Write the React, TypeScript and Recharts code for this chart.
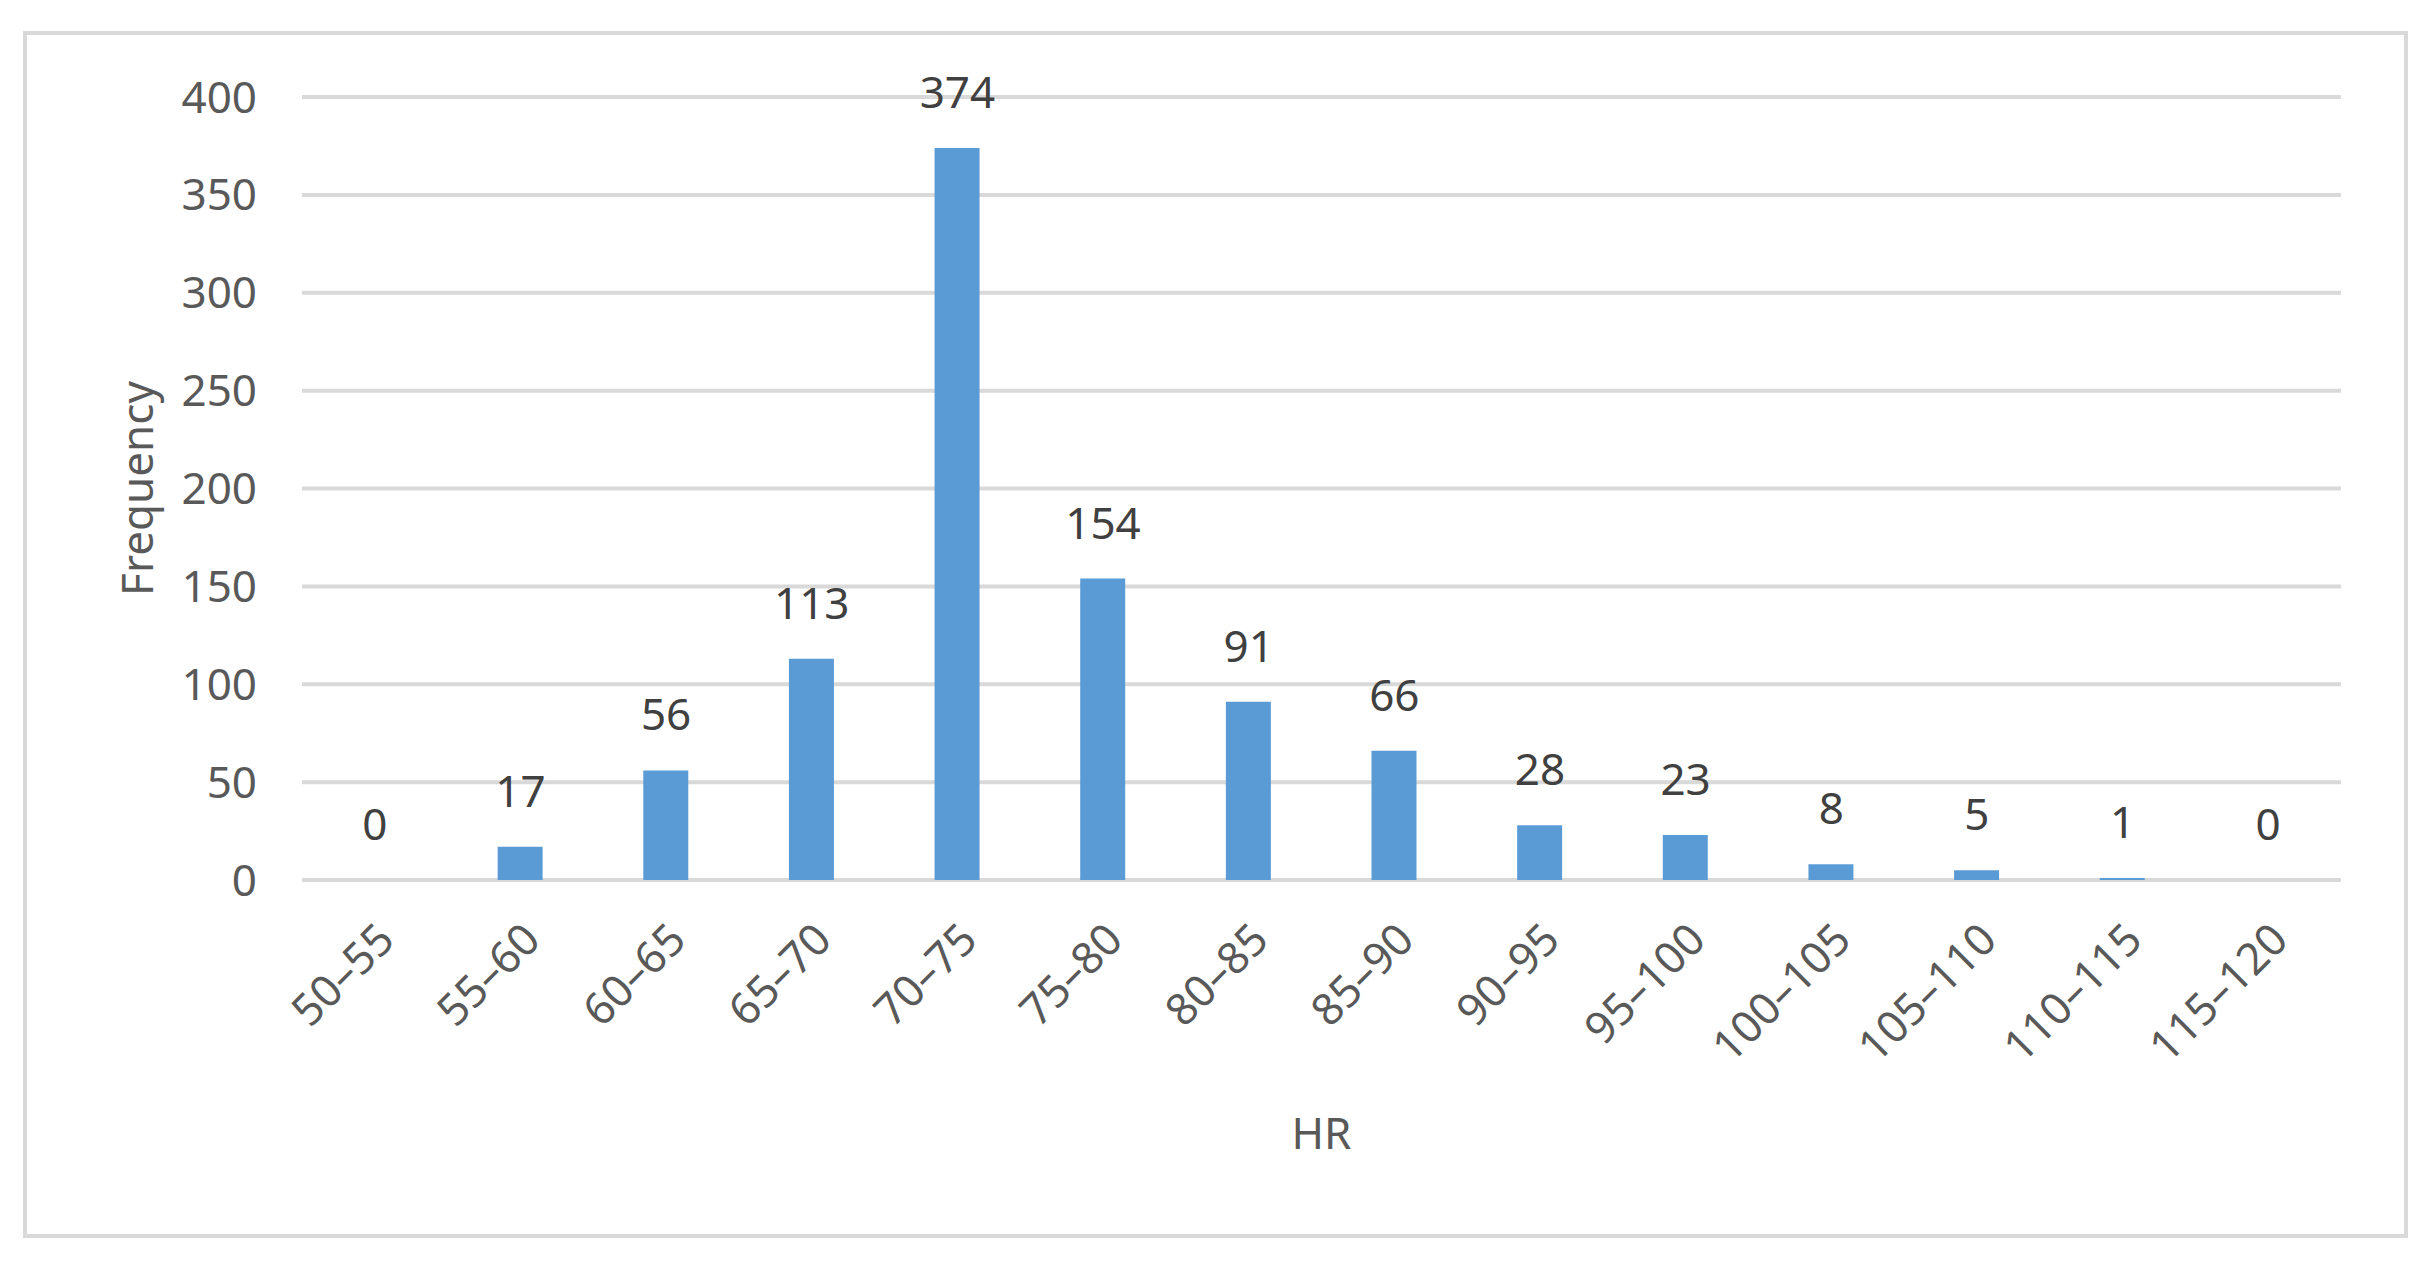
import React from 'react';
import { ComposedChart, Bar, Line, XAxis, YAxis, CartesianGrid, LabelList } from 'recharts';

const categories = ['50–55', '55–60', '60–65', '65–70', '70–75', '75–80', '80–85', '85–90', '90–95', '95–100', '100–105', '105–110', '110–115', '115–120'];
const frequencies = [0, 17, 56, 113, 374, 154, 91, 66, 28, 23, 8, 5, 1, 0];
const yTicks = [0, 50, 100, 150, 200, 250, 300, 350, 400];

const data = categories.map((c, i) => ({ range: c, value: frequencies[i] }));

const FONT = '"Noto Sans", "Open Sans", sans-serif';
const FS = 44;

export default function App() {
  return (
    <div style={{ position: 'absolute', left: 0, top: 0, width: 2431, height: 1267, background: '#ffffff', fontFamily: FONT }}>
      <div style={{ position: 'absolute', left: 23, top: 31, width: 2377, height: 1199, border: '4px solid #D9D9D9' }} />
      <div style={{ position: 'absolute', left: 0, top: 0 }}>
        <ComposedChart width={2431} height={1267} data={data} margin={{ top: 97, right: 90, bottom: 137, left: 0 }}>
          <CartesianGrid vertical={false} stroke="#D9D9D9" strokeWidth={4} />
          <XAxis
            dataKey="range"
            height={250}
            tickLine={false}
            tickSize={0}
            tickMargin={40}
            axisLine={false}
            interval={0}
            angle={-45}
            textAnchor="end"
            tick={{ fill: '#595959', fontSize: FS, fontFamily: FONT }}
            label={{
              content: (props: any) => {
                const vb = props.viewBox || {};
                return (
                  <text x={vb.x + vb.width / 2} y={1132} textAnchor="middle" dominantBaseline="central" fill="#595959" fontSize={FS} fontFamily={FONT}>
                    HR
                  </text>
                );
              },
            }}
          />
          <YAxis
            width={302}
            domain={[0, 400]}
            ticks={yTicks}
            interval={0}
            tickLine={false}
            tickSize={0}
            tickMargin={45}
            axisLine={false}
            tick={{ fill: '#595959', fontSize: FS, fontFamily: FONT }}
            label={{
              content: (props: any) => {
                const vb = props.viewBox || {};
                const cy = vb.y + vb.height / 2;
                return (
                  <text x={136} y={cy} transform={`rotate(-90, 136, ${cy})`} textAnchor="middle" dominantBaseline="central" fill="#595959" fontSize={FS} fontFamily={FONT}>
                    Frequency
                  </text>
                );
              },
            }}
          />
          <Bar dataKey="value" fill="#5B9BD5" barSize={45} isAnimationActive={false} />
          <Line dataKey="value" stroke="none" dot={false} activeDot={false} legendType="none" isAnimationActive={false}>
            <LabelList dataKey="value" position="top" offset={40} fill="#404040" fontSize={FS} fontFamily={FONT} />
          </Line>
        </ComposedChart>
      </div>
    </div>
  );
}
